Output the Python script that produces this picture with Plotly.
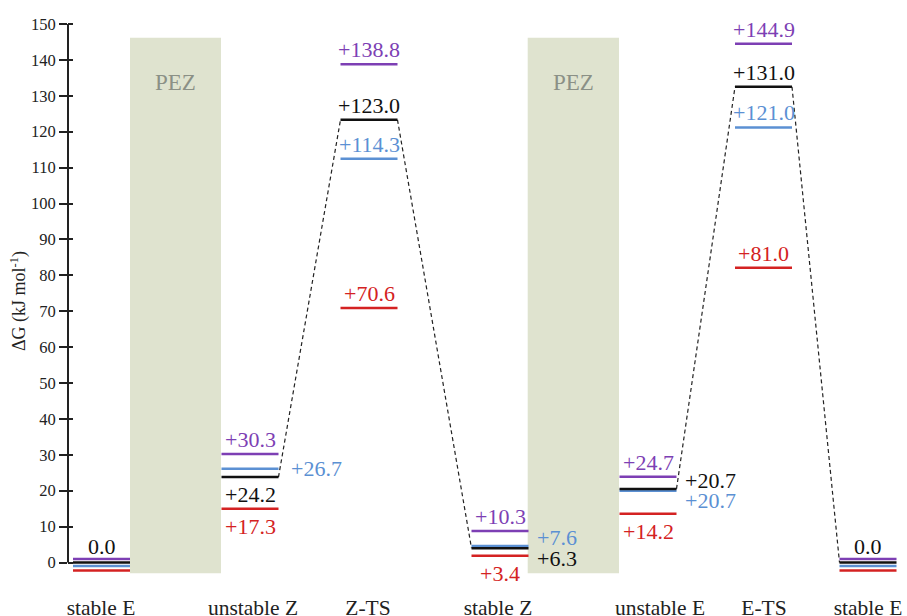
import plotly.graph_objects as go

# reaction path stages (x-axis categories)
stages = ["stable E", "unstable Z", "Z-TS", "stable Z", "unstable E", "E-TS", "stable E"]

# drawn level heights (kJ/mol) and the printed values
purple_level = [1.0, 30.2, 138.8, 8.8, 23.9, 144.5, 1.0]
purple_label = ["", "+30.3", "+138.8", "+10.3", "+24.7", "+144.9", ""]
black_level = [0.0, 23.8, 123.3, 4.0, 20.5, 132.5, 0.0]
black_label = ["0.0", "+24.2", "+123.0", "+6.3", "+20.7", "+131.0", "0.0"]
blue_level = [-1.0, 26.1, 112.5, 4.6, 20.0, 121.2, -1.0]
blue_label = ["", "+26.7", "+114.3", "+7.6", "+20.7", "+121.0", ""]
red_level = [-2.2, 15.0, 70.9, 1.9, 13.6, 82.1, -2.2]
red_label = ["", "+17.3", "+70.6", "+3.4", "+14.2", "+81.0", ""]

y_ticks = list(range(0, 151, 10))

# ---- layout constants (positions / styles) ----
stage_x = [101.5, 250, 369, 500, 648, 763.5, 868]    # level centres
label_x = [101, 253, 368, 498, 660, 764, 868]         # category label centres
half_w = 28.5
pez_spans = [(130, 221), (527.7, 619)]
pez_top, pez_bottom = 146.2, -3.0
connect = [(1, 2), (2, 3), (4, 5), (5, 6)]            # dashed paths on black levels

purple_place = ["", "a", "a", "a", "a", "a", ""]
black_place = ["a0", "b", "a", "rd", "ru", "a", "a0"]
blue_place = ["", "r", "a", "ru", "rd", "a", ""]
red_place = ["", "b", "a", "b", "b", "a", ""]
# code -> (anchor, xshift px, yshift px)
offsets = {
    "a": ("center", 0, 14.5),
    "a0": ("center", 0, 16),
    "b": ("center", 0, -17.5),
    "r": ("left", 10, 0),
    "ru": ("left", 6, 8.5),
    "rd": ("left", 6, -10),
}

PURPLE = "#7d3fb4"
BLACK = "#111111"
BLUE = "#5b90d3"
RED = "#d42222"
SERIF = "Times New Roman, Liberation Serif, DejaVu Serif, serif"

series = [
    (purple_level, purple_label, purple_place, PURPLE),
    (blue_level, blue_label, blue_place, BLUE),
    (black_level, black_label, black_place, BLACK),
    (red_level, red_label, red_place, RED),
]

fig = go.Figure()

# dashed connectors between black levels
dx, dy = [], []
for a, b in connect:
    dx += [stage_x[a] + half_w, stage_x[b] - half_w, None]
    dy += [black_level[a], black_level[b], None]
fig.add_trace(go.Scatter(x=dx, y=dy, mode="lines", hoverinfo="skip",
                         line=dict(color="#222222", width=1.2, dash="4px,3px")))

annotations = []
for levels, labels, places, color in series:
    xs, ys = [], []
    for cx, lv in zip(stage_x, levels):
        xs += [cx - half_w, cx + half_w, None]
        ys += [lv, lv, None]
    fig.add_trace(go.Scatter(x=xs, y=ys, mode="lines", line=dict(color=color, width=2.5),
                             hoverinfo="skip"))
    for cx, lv, txt, pl in zip(stage_x, levels, labels, places):
        if not txt:
            continue
        anchor, xs_, ys_ = offsets[pl]
        tcolor = BLACK if pl == "a0" else color
        annotations.append(dict(
            x=cx + half_w if anchor == "left" else cx, y=lv, xref="x", yref="y",
            text=txt, showarrow=False, xanchor=anchor, yanchor="middle",
            xshift=xs_, yshift=ys_, font=dict(family=SERIF, size=22, color=tcolor)))

# invisible trace for the inner tick axis
fig.add_trace(go.Scatter(x=[None], y=[None], yaxis="y2", showlegend=False, hoverinfo="skip"))

shapes = []
for x0, x1 in pez_spans:
    shapes.append(dict(type="rect", xref="x", yref="y", x0=x0, x1=x1, y0=pez_bottom, y1=pez_top,
                       fillcolor="#dfe3cf", line=dict(width=0), layer="below"))
    annotations.append(dict(x=(x0 + x1) / 2, y=133.6, xref="x", yref="y", text="PEZ",
                            showarrow=False, font=dict(family=SERIF, size=23, color="#8b9086")))
shapes.append(dict(type="line", xref="paper", yref="y", x0=0, x1=0, y0=0, y1=150,
                   line=dict(color="#222222", width=2)))

y_range = [(562.5 - 592) / 3.59, (562.5 - 10) / 3.59]

fig.update_layout(
    width=907, height=616,
    margin=dict(l=68, r=7, t=10, b=24),
    plot_bgcolor="white", paper_bgcolor="white",
    showlegend=False,
    font=dict(family=SERIF, color="#222222"),
    shapes=shapes, annotations=annotations,
    xaxis=dict(range=[68, 900], tickvals=label_x, ticktext=stages, showgrid=False,
               zeroline=False, showline=False, ticks="", tickfont=dict(size=21.5),
               automargin=False),
    yaxis=dict(range=y_range, tickvals=y_ticks, ticks="outside", ticklen=8, tickwidth=1.8,
               tickcolor="#222222", showgrid=False, zeroline=False, showline=False,
               tickfont=dict(size=16.5), automargin=False,
               title=dict(text="ΔG (kJ mol<sup>-1</sup>)", font=dict(size=18), standoff=0)),
    yaxis2=dict(range=y_range, overlaying="y", side="left", tickvals=y_ticks, ticks="inside",
                ticklen=5, tickwidth=1.8, tickcolor="#222222", showticklabels=False,
                showgrid=False, zeroline=False, showline=False),
)

fig.write_html("out.html", config={"displayModeBar": False},
               post_script="document.body.style.margin='0';")
